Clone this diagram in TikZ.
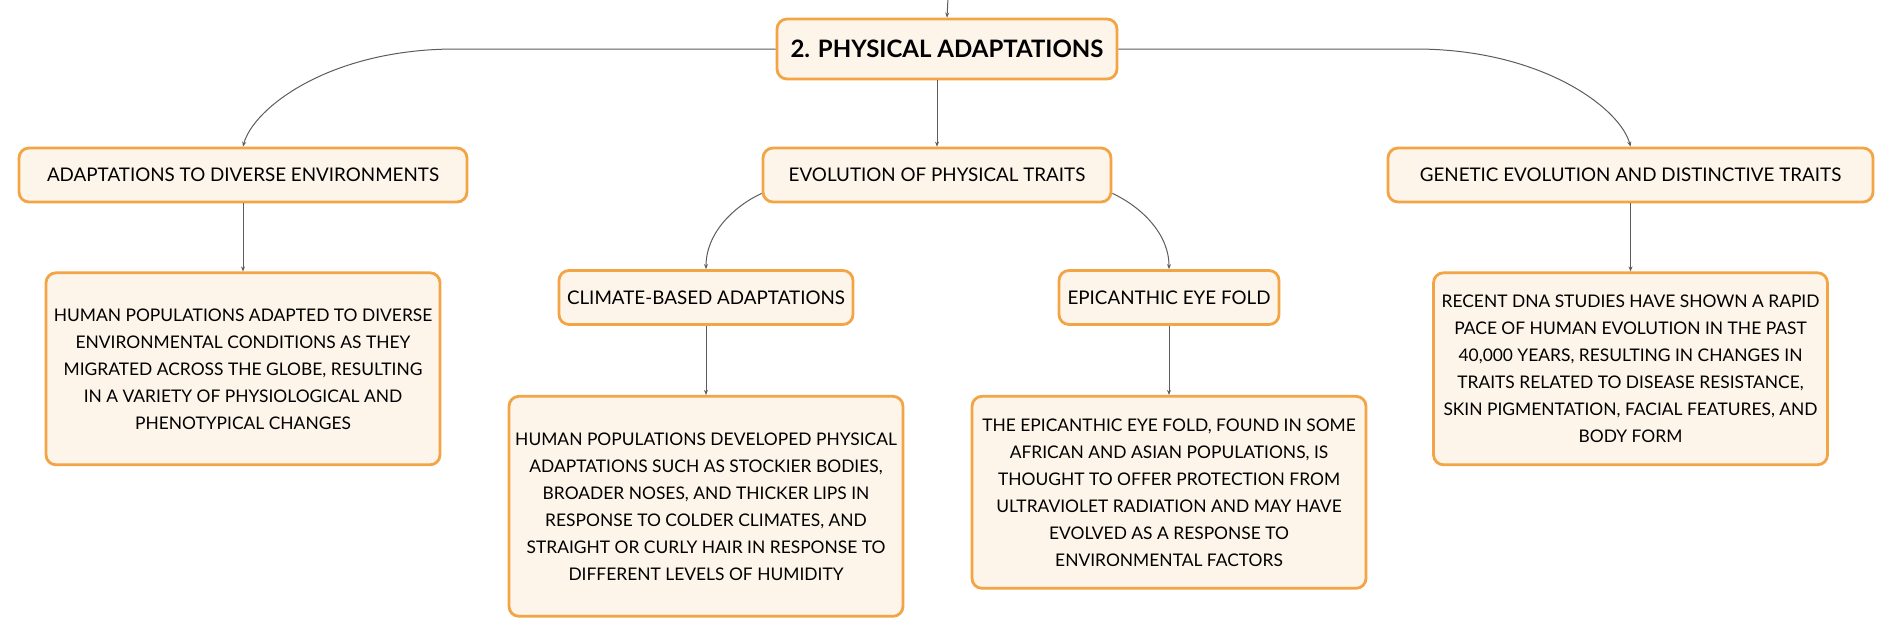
\documentclass[tikz,border=0pt]{standalone}
\usepackage{fontspec}
\setmainfont{Lato}
\usetikzlibrary{positioning,arrows.meta}
\definecolor{boxfill}{HTML}{FDF4EA}
\definecolor{boxline}{HTML}{F3A445}
\definecolor{linkgray}{HTML}{5C5C5C}
\tikzset{
>={Stealth[length=2.5pt,width=2pt]},
topic/.style={rectangle, rounded corners=5pt, draw=boxline, line width=1.4pt, fill=boxfill, minimum height=27pt, inner sep=0pt, text centered, font=\fontsize{9.4}{11}\selectfont},
mainbox/.style={topic, minimum width=170pt, minimum height=30pt, font=\fontsize{12}{14}\selectfont\bfseries},
detail/.style={topic, minimum width=197pt, minimum height=96pt, align=center, font=\fontsize{8.7}{13.5}\selectfont},
line/.style={draw=linkgray, line width=0.5pt, ->},
}

\begin{document}
\begin{tikzpicture}[x=0.5pt, y=-0.5pt, node distance=34pt]
\useasboundingbox (0,0) rectangle (1894,634);

\node[mainbox] (phys) at (947,49) {2. PHYSICAL ADAPTATIONS};

\node[topic, minimum width=224pt] (diverse) at (243,175) {ADAPTATIONS TO DIVERSE ENVIRONMENTS};
\node[topic, minimum width=174pt] (traits) at (937,175) {EVOLUTION OF PHYSICAL TRAITS};
\node[topic, minimum width=242.5pt] (genetic) at (1630.5,175) {GENETIC EVOLUTION AND DISTINCTIVE TRAITS};

\node[topic, minimum width=147pt] (climate) at (706,297.5) {CLIMATE-BASED ADAPTATIONS};
\node[topic, minimum width=110pt] (eyefold) at (1169,297.5) {EPICANTHIC EYE FOLD};

\node[detail, below=of diverse] (diverse_txt) {HUMAN POPULATIONS ADAPTED TO DIVERSE\\ENVIRONMENTAL CONDITIONS AS THEY\\MIGRATED ACROSS THE GLOBE, RESULTING\\IN A VARIETY OF PHYSIOLOGICAL AND\\PHENOTYPICAL CHANGES};
\node[detail, minimum height=110pt, below=34.5pt of climate] (climate_txt) {HUMAN POPULATIONS DEVELOPED PHYSICAL\\ADAPTATIONS SUCH AS STOCKIER BODIES,\\BROADER NOSES, AND THICKER LIPS IN\\RESPONSE TO COLDER CLIMATES, AND\\STRAIGHT OR CURLY HAIR IN RESPONSE TO\\DIFFERENT LEVELS OF HUMIDITY};
\node[detail, below=34.5pt of eyefold] (eyefold_txt) {THE EPICANTHIC EYE FOLD, FOUND IN SOME\\AFRICAN AND ASIAN POPULATIONS, IS\\THOUGHT TO OFFER PROTECTION FROM\\ULTRAVIOLET RADIATION AND MAY HAVE\\EVOLVED AS A RESPONSE TO\\ENVIRONMENTAL FACTORS};
\node[detail, below=of genetic] (genetic_txt) {RECENT DNA STUDIES HAVE SHOWN A RAPID\\PACE OF HUMAN EVOLUTION IN THE PAST\\40,000 YEARS, RESULTING IN CHANGES IN\\TRAITS RELATED TO DISEASE RESISTANCE,\\SKIN PIGMENTATION, FACIAL FEATURES, AND\\BODY FORM};

% link from the parent above
\coordinate (up) at (948,-2);
\path[line] (up) -- (phys.north);

\path[line] (phys.west) -- ++(-320,0) .. controls +(-127,0) and +(10,-38) .. (diverse.north);
\path[line] (phys.south -| traits.north) -- (traits.north);
\path[line] (phys.east) -- ++(297,0) .. controls +(127,0) and +(-10,-38) .. (genetic.north);

\path[line] ([yshift=5pt]traits.south west) .. controls +(-28,13) and +(0,-36) .. (climate.north);
\path[line] ([yshift=5pt]traits.south east) .. controls +(28,13) and +(0,-36) .. (eyefold.north);

\path[line] (diverse) -- (diverse_txt);
\path[line] (climate) -- (climate_txt);
\path[line] (eyefold) -- (eyefold_txt);
\path[line] (genetic) -- (genetic_txt);

\end{tikzpicture}
\end{document}
